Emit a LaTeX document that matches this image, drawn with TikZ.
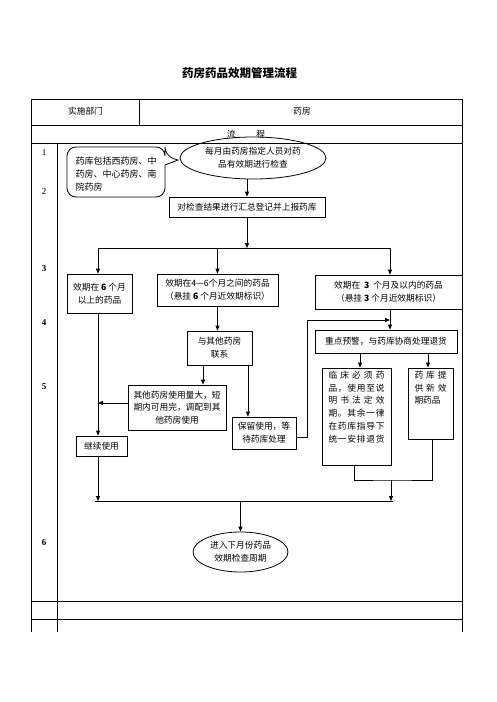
\documentclass[tikz,border=0pt]{standalone}
\usepackage{fontspec}
\setmainfont{Liberation Serif}
\newfontfamily\cjk{Noto Sans CJK SC}
\usetikzlibrary{arrows.meta,shapes.geometric}
\begin{document}
\begin{tikzpicture}[x=1pt,y=-1pt,
  line width=0.8pt,
  every node/.style={font=\cjk\fontsize{8.7pt}{12.8pt}\selectfont, inner sep=0pt},
  bx/.style={draw, align=center},
  ell/.style={draw, ellipse, align=center},
  arr/.style={-{Triangle[length=5pt,width=4pt]}},
  tbl/.style={line width=1pt},
  rownum/.style={font=\fontsize{9pt}{10pt}\selectfont},
]
\useasboundingbox (0,0) rectangle (496,702);
\fill[white] (0,0) rectangle (496,702);

% title
\node[font=\cjk\bfseries\fontsize{11.5pt}{13pt}\selectfont] (title) at (239.5,73) {药房药品效期管理流程};

% table
\draw[tbl] (31,632) -- (31,99) -- (462,99) -- (462,632);
\draw[tbl] (31,125) -- (462,125);
\draw[tbl] (31,143) -- (462,143);
\draw[tbl] (31,601) -- (462,601);
\draw[tbl] (31,619) -- (462,619);
\draw[tbl] (57,143) -- (57,632);
\draw[tbl] (139,99) -- (139,125);
\node (h1) at (85.5,111) {实施部门};
\node (h2) at (302,111) {药房};
\node (h3) at (246,134) {流\hspace{21pt}程};

% row numbers
\node[rownum] (r1) at (44,153) {1};
\node[rownum] (r2) at (44,192) {2};
\node[rownum,font=\bfseries\fontsize{9pt}{10pt}\selectfont] (r3) at (44,269) {3};
\node[rownum,font=\bfseries\fontsize{9pt}{10pt}\selectfont] (r4) at (44,323) {4};
\node[rownum,font=\bfseries\fontsize{9pt}{10pt}\selectfont] (r5) at (44,387) {5};
\node[rownum,font=\bfseries\fontsize{9pt}{10pt}\selectfont] (r6) at (44,543) {6};

% top ellipse and callout
\node[ell, minimum width=146pt, minimum height=42pt] (e1) at (253,158) {每月由药房指定人员对药\\品有效期进行检查};
\node[align=left, font=\cjk\fontsize{9pt}{13pt}\selectfont] (note) at (116,174) {药库包括西药房、中\\药房、中心药房、南\\院药房};
\draw[rounded corners=9pt] (116,147) -- (165,147) -- (165,156) [sharp corners] -- (178,160) -- (165,165) [rounded corners=9pt] -- (165,197) -- (67,197) -- (67,147) -- cycle;

% boxes
\node[bx, minimum width=156pt, minimum height=20pt] (box1) at (247,207) {对检查结果进行汇总登记并上报药库};
\node[bx, minimum width=65pt, minimum height=39pt] (A) at (99.5,293.5) {效期在 \textbf{6} 个月\\以上的药品};
\node[bx, minimum width=121pt, minimum height=32pt] (B) at (217.5,290) {效期在4—6个月之间的药品\\（悬挂 \textbf{6} 个月近效期标识）};
\node[bx, minimum width=147pt, minimum height=34pt] (C) at (388.5,292) {效期在 \ \textbf{3} \ 个月及以内的药品\\（悬挂 \textbf{3} 个月近效期标识）};
\node[bx, minimum width=65pt, minimum height=34pt] (D) at (219.5,348) {与其他药房\\联系};
\node[bx, minimum width=142pt, minimum height=23pt] (E) at (386,341.5) {重点预警，与药库协商处理退货};
\node[bx, minimum width=98pt, minimum height=45pt] (F) at (177,407.5) {其他药房使用量大，短\\期内可用完，调配到其\\他药房使用};
\node[bx, minimum width=64pt, minimum height=32pt] (G) at (264,433) {保留使用，等\\待药库处理};
\node[bx, minimum width=51pt, minimum height=20pt] (H) at (101.5,446) {继续使用};
\node[draw] (I) at (356.5,416.5) {\parbox[c][97pt][t]{69pt}{\vspace*{3pt}\centering
  \makebox[56pt][s]{临\hfill 床\hfill 必\hfill 须\hfill 药}\\
  \makebox[56pt][s]{品\hfill ，\hfill 使\hfill 用\hfill 至\hfill 说}\\
  \makebox[56pt][s]{明\hfill 书\hfill 法\hfill 定\hfill 效}\\
  \makebox[56pt][s]{期\hfill 。\hfill 其\hfill 余\hfill 一\hfill 律}\\
  \makebox[56pt][s]{在\hfill 药\hfill 库\hfill 指\hfill 导\hfill 下}\\
  \makebox[56pt][s]{统\hfill 一\hfill 安\hfill 排\hfill 退\hfill 货}}};
\node[draw] (J) at (430.5,403.5) {\parbox[c][71pt][t]{45pt}{\vspace*{3pt}\centering
  \makebox[32pt][s]{药\hfill 库\hfill 提}\\
  \makebox[32pt][s]{供\hfill 新\hfill 效}\\
  \makebox[32pt][l]{期药品}}};
\node[ell, minimum width=95pt, minimum height=40pt] (E2) at (240.5,552) {进入下月份药品\\效期检查周期};

% connector coordinates
\coordinate (bL) at (98,248);
\coordinate (bM) at (217.5,248);
\coordinate (bR) at (390,248);
\coordinate (bC) at (247,248);
\coordinate (d1) at (203,365);
\coordinate (d2) at (248,365);
\coordinate (f1) at (128,403);
\coordinate (g1) at (296,437);
\coordinate (lp) at (307,320);
\coordinate (e3) at (360,353);
\coordinate (e4) at (428,353);
\coordinate (i1) at (354,465);
\coordinate (j1) at (432,439);
\coordinate (jn) at (391,480);
\coordinate (mL) at (95,501);
\coordinate (mR) at (393,501);

% connectors
\draw[arr] (box1.north |- e1.south) -- (box1.north);
\draw[arr] (box1.south) -- (bC);
\draw (bL) -- (bR);
\draw[arr] (bL) -- (bL |- A.north);
\draw[arr] (bM) -- (bM |- B.north);
\draw[arr] (bR) -- (bR |- C.north);
\draw[arr] (B.south) -- (B.south |- D.north);
\draw[arr] (d1) -- (d1 |- F.north);
\draw[arr] (d2) -- (d2 |- G.north);
\draw[arr] (f1) -- (f1 -| bL);
\draw[arr] (A.south -| bL) -- (H.north -| bL);
\draw[arr] (bR |- C.south) -- (bR |- E.north);
\draw[arr] (g1) -| (lp) -- (lp -| bR);
\draw[arr] (e3) -- (e3 |- I.north);
\draw[arr] (e4) -- (e4 |- J.north);
\draw (i1) |- (jn) -| (j1);
\draw (mL) -- (mR);
\draw[arr] (H.south -| bL) -- (bL |- mL);
\draw[arr] (jn) -- (jn |- mL);
\draw[arr] (E2.north |- mL) -- (E2.north);
\end{tikzpicture}
\end{document}
